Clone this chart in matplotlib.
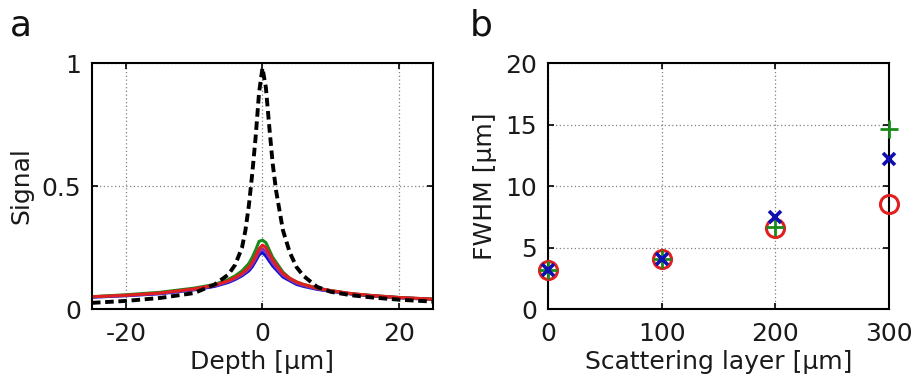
import matplotlib
matplotlib.use("Agg")
import matplotlib.pyplot as plt

plt.rcParams['font.family'] = ['DejaVu Sans']
plt.rcParams['axes.unicode_minus'] = False

# ---- Panel a data ----
depth = [-25, -20, -15, -10, -7, -5, -4, -3, -2.5, -2, -1.5, -1, -0.5, 0,
         0.5, 1, 1.5, 2, 2.5, 3, 4, 5, 6, 8, 10, 13, 16, 20, 25]
signal_ref = [0.025, 0.033, 0.045, 0.065, 0.10, 0.14, 0.18, 0.25, 0.32, 0.42,
              0.55, 0.70, 0.88, 0.98, 0.90, 0.74, 0.59, 0.48, 0.40, 0.32,
              0.23, 0.17, 0.135, 0.09, 0.07, 0.056, 0.047, 0.038, 0.030]
signal_green = [0.050, 0.058, 0.068, 0.085, 0.100, 0.120, 0.135, 0.155, 0.170,
                0.185, 0.210, 0.240, 0.275, 0.280, 0.270, 0.240, 0.210, 0.190,
                0.170, 0.150, 0.125, 0.110, 0.100, 0.085, 0.075, 0.062, 0.055,
                0.047, 0.040]
signal_red = [0.050, 0.056, 0.065, 0.082, 0.097, 0.115, 0.128, 0.145, 0.157,
              0.170, 0.190, 0.215, 0.245, 0.260, 0.250, 0.225, 0.200, 0.180,
              0.162, 0.145, 0.125, 0.110, 0.100, 0.085, 0.075, 0.063, 0.055,
              0.047, 0.040]
signal_magenta = [0.049, 0.055, 0.064, 0.080, 0.095, 0.112, 0.124, 0.140,
                  0.151, 0.163, 0.182, 0.205, 0.232, 0.245, 0.233, 0.210,
                  0.188, 0.170, 0.153, 0.138, 0.120, 0.105, 0.096, 0.082,
                  0.073, 0.062, 0.054, 0.046, 0.039]
signal_blue = [0.048, 0.054, 0.062, 0.078, 0.092, 0.108, 0.120, 0.135, 0.145,
               0.155, 0.172, 0.195, 0.220, 0.230, 0.215, 0.195, 0.175, 0.160,
               0.145, 0.130, 0.115, 0.100, 0.092, 0.080, 0.072, 0.061, 0.053,
               0.046, 0.039]

# ---- Panel b data ----
layer = [0, 100, 200, 300]
fwhm_circle = [3.2, 4.1, 6.6, 8.5]
fwhm_x = [3.2, 4.1, 7.5, 12.2]
fwhm_plus = [3.2, 4.1, 6.7, 14.6]

fig = plt.figure(figsize=(9.16, 3.78), dpi=100)
axa = fig.add_axes([0.1004, 0.1825, 0.3723, 0.6508])
axb = fig.add_axes([0.5983, 0.1825, 0.3723, 0.6508])

FS = 18
TXT = '#1a1a1a'
for ax in (axa, axb):
    for s in ax.spines.values():
        s.set_linewidth(1.5)
        s.set_color('black')
    ax.tick_params(direction='in', length=4, width=1.2, labelsize=FS,
                   top=True, right=True, colors='black', labelcolor=TXT)
    ax.tick_params(axis='x', pad=9)
    ax.tick_params(axis='y', pad=8)
    ax.grid(True, linestyle=(0, (1, 2)), color='#808080', linewidth=0.9)
    ax.set_axisbelow(True)

# Panel a
axa.plot(depth, signal_blue, color='#1010d0', lw=2.2)
axa.plot(depth, signal_magenta, color='#9030b0', lw=2.2)
axa.plot(depth, signal_green, color='#1a8a1a', lw=2.2)
axa.plot(depth, signal_red, color='#e02020', lw=2.2)
axa.plot(depth, signal_ref, color='black', lw=2.8, linestyle=(0, (2.2, 1.2)))
axa.set_xlim(-25, 25)
axa.set_ylim(0, 1)
axa.set_xticks([-20, 0, 20])
axa.set_yticks([0, 0.5, 1])
axa.set_yticklabels(['0', '0.5', '1'])
axa.set_xlabel('Depth [\u00b5m]', fontsize=FS, labelpad=3, color=TXT)
axa.set_ylabel('Signal', fontsize=FS, labelpad=6, color=TXT)

# Panel b
axb.plot(layer, fwhm_circle, linestyle='none', marker='o', markersize=13,
         markerfacecolor='none', markeredgecolor='#e02020', markeredgewidth=2.2,
         clip_on=False, zorder=3)
axb.plot(layer, fwhm_plus, linestyle='none', marker='+', markersize=13,
         markeredgecolor='#1a8a1a', markeredgewidth=2.0, clip_on=False, zorder=4)
axb.plot(layer, fwhm_x, linestyle='none', marker='x', markersize=9,
         markeredgecolor='#1010b0', markeredgewidth=2.6, clip_on=False, zorder=5)
axb.set_xlim(0, 300)
axb.set_ylim(0, 20)
axb.set_xticks([0, 100, 200, 300])
axb.set_yticks([0, 5, 10, 15, 20])
axb.set_xlabel('Scattering layer [\u00b5m]', fontsize=FS, labelpad=3, color=TXT)
axb.set_ylabel('FWHM [\u00b5m]', fontsize=FS, labelpad=6, color=TXT)

fig.text(0.011, 0.905, 'a', fontsize=26, color='#111111')
fig.text(0.513, 0.905, 'b', fontsize=26, color='#111111')

fig.savefig('out.png', dpi=100)
